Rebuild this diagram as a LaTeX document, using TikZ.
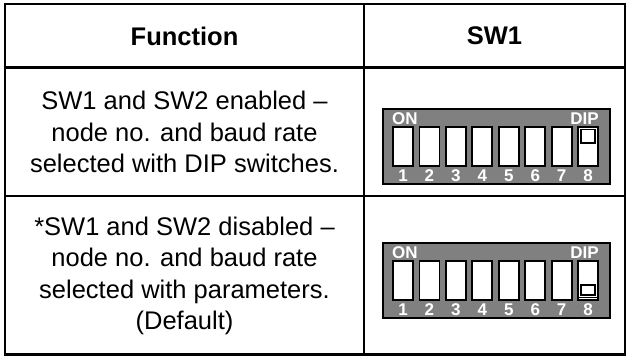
\documentclass[tikz,border=0pt]{standalone}
\usepackage{fontspec}
\setmainfont{Liberation Sans}
\definecolor{dipgray}{HTML}{808080}
\tikzset{
  rule/.style={line width=2.6pt, line cap=rect},
  headtext/.style={font=\fontsize{25.5}{32}\selectfont\bfseries, anchor=center},
  celltext/.style={font=\fontsize{25.5}{31.5}\selectfont, align=center, anchor=center},
  dipbody/.style={fill=dipgray, draw=black, line width=2pt},
  dipslot/.style={fill=white, draw=black, line width=1.8pt},
  dipknob/.style={fill=white, draw=black, line width=1.8pt},
  diplabel/.style={text=white, font=\fontsize{17}{17}\selectfont\bfseries, inner sep=0pt},
}
% one 8-way DIP switch; #1 = name prefix, #2 = top edge, #3 = 1 if switch 8 is up
\newcommand{\dipblock}[3]{%
  \begin{scope}[shift={(383,#2)}]
    \draw[dipbody] (0,0) rectangle (227,75);
    \foreach \i in {1,...,8}{
      \pgfmathsetmacro{\sx}{10+(\i-1)*26.45}
      \draw[dipslot] (\sx,18) rectangle ++(20,39);
      \node[diplabel] (#1n\i) at (\sx+10,66.5) {\i};
    }
    \ifnum#3=1
      \draw[dipknob] (198.2,20.5) rectangle (212.2,34);
    \else
      \draw[dipknob] (198.2,42) rectangle (212.2,52);
      \draw[black, line width=1.6pt] (196,54.5) -- (214.3,54.5);
    \fi
    \node[diplabel, anchor=west] (#1on) at (9,9.5) {ON};
    \node[diplabel, anchor=east] (#1dip) at (216,9.5) {DIP};
  \end{scope}}
\begin{document}
\begin{tikzpicture}[x=1pt, y=-1pt]
  \useasboundingbox (0,0) rectangle (627,356);
  % table frame
  \draw[rule] (5,4) rectangle (625,354.5);
  \draw[rule] (5,67.5) -- (625,67.5);
  \draw[rule] (5,196) -- (625,196);
  \draw[rule] (364,4) -- (364,354.5);
  % headings
  \node[headtext] (hfunc) at (184.5,36) {Function};
  \node[headtext] (hsw) at (494.5,36) {SW1};
  % function descriptions
  \node[celltext] (f1) at (184.5,132) {SW1 and SW2 enabled –\\node no. and baud rate\\selected with DIP switches.};
  \node[celltext] (f2) at (184.5,276) {*SW1 and SW2 disabled –\\node no. and baud rate\\selected with parameters.\\(Default)};
  % switch settings
  \dipblock{a}{109}{1}
  \dipblock{b}{243}{0}
\end{tikzpicture}
\end{document}
